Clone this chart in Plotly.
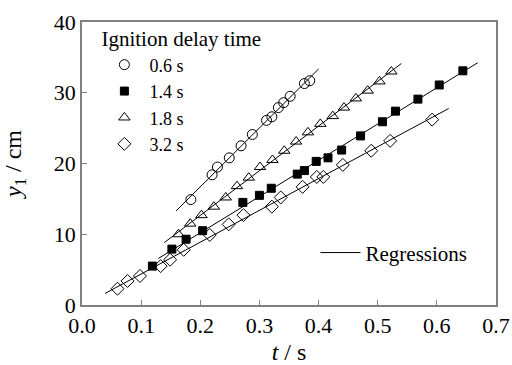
import numpy as np
import plotly.graph_objects as go

# ---- data ----
t_06 = [0.184, 0.220, 0.229, 0.249, 0.269, 0.288, 0.312, 0.321, 0.332, 0.341, 0.352, 0.376, 0.385]
y_06 = [14.9, 18.4, 19.5, 20.8, 22.5, 24.1, 26.1, 26.6, 27.9, 28.6, 29.5, 31.3, 31.7]

t_14 = [0.119, 0.152, 0.176, 0.204, 0.272, 0.300, 0.320, 0.364, 0.376, 0.396, 0.416, 0.439, 0.471, 0.508, 0.530, 0.568, 0.604, 0.644]
y_14 = [5.5, 7.9, 9.3, 10.5, 14.5, 15.5, 16.5, 18.5, 19.0, 20.3, 20.8, 21.9, 23.9, 25.9, 27.4, 29.1, 31.1, 33.1]

t_18 = [0.163, 0.183, 0.202, 0.223, 0.243, 0.262, 0.282, 0.301, 0.322, 0.342, 0.362, 0.382, 0.403, 0.424, 0.443, 0.463, 0.483, 0.503, 0.523]
y_18 = [10.0, 11.5, 12.7, 13.9, 15.2, 16.8, 18.0, 19.5, 20.5, 21.8, 23.1, 24.4, 25.6, 26.7, 27.9, 29.2, 30.3, 31.6, 33.0]

t_32 = [0.060, 0.077, 0.098, 0.133, 0.149, 0.172, 0.216, 0.248, 0.273, 0.321, 0.336, 0.373, 0.397, 0.408, 0.441, 0.489, 0.521, 0.592]
y_32 = [2.3, 3.4, 4.1, 5.5, 6.4, 7.8, 9.9, 11.4, 12.7, 13.9, 15.2, 16.7, 18.1, 18.1, 19.8, 21.8, 23.2, 26.2]

series_names = ["0.6 s", "1.4 s", "1.8 s", "3.2 s"]
series_t = [t_06, t_14, t_18, t_32]
series_y = [y_06, y_14, y_18, y_32]
series_symbols = ["circle-open", "square", "triangle-up-open", "diamond-open"]
series_sizes = [10, 8, 10, 10]
# extent of each regression line (t range)
fit_t_start = [0.159, 0.129, 0.139, 0.039]
fit_t_end = [0.400, 0.669, 0.540, 0.620]

FONT = "Liberation Serif, Times New Roman, Times, serif"
AX = "#808080"

fig = go.Figure()

for i in range(4):
    a, b = np.polyfit(series_t[i], series_y[i], 1)
    tt = np.array([fit_t_start[i], fit_t_end[i]])
    fig.add_trace(go.Scatter(
        x=tt, y=a * tt + b, mode="lines",
        line=dict(color="black", width=1),
        name="Regressions", showlegend=(i == 0), legend="legend2",
    ))

for i in range(4):
    fig.add_trace(go.Scatter(
        x=series_t[i], y=series_y[i], mode="markers", name=series_names[i],
        marker=dict(symbol=series_symbols[i], size=series_sizes[i], color="black",
                    line=dict(color="black", width=1)),
        legend="legend",
    ))

fig.update_layout(
    width=512, height=365,
    margin=dict(l=82, r=16, t=22, b=60),
    paper_bgcolor="white", plot_bgcolor="white",
    font=dict(family=FONT, size=21, color="black"),
    legend=dict(
        title=dict(text="Ignition delay time", font=dict(family=FONT, size=21)),
        x=0.042, y=1.01, xanchor="left", yanchor="top",
        bgcolor="rgba(0,0,0,0)", font=dict(family=FONT, size=18),
        tracegroupgap=0, itemwidth=40,
    ),
    legend2=dict(
        x=0.564, y=0.184, xanchor="left", yanchor="middle",
        bgcolor="rgba(0,0,0,0)", font=dict(family=FONT, size=21),
        itemwidth=40,
    ),
    xaxis=dict(
        range=[0, 0.7], dtick=0.1, tick0=0, tickformat=".1f",
        showline=True, mirror=True, linecolor=AX, linewidth=1.5,
        ticks="inside", ticklen=5, tickcolor=AX, showgrid=False, zeroline=False,
        tickfont=dict(family=FONT, size=22), automargin=False,
        title=dict(text="<i>t</i> / s", font=dict(family=FONT, size=24), standoff=17),
    ),
    yaxis=dict(
        range=[0, 40], dtick=10,
        showline=True, mirror=True, linecolor=AX, linewidth=1.5,
        ticks="inside", ticklen=5, tickcolor=AX, showgrid=False, zeroline=False,
        tickfont=dict(family=FONT, size=22), automargin=False,
        title=dict(text="<i>y</i><sub>1</sub> / cm", font=dict(family=FONT, size=24), standoff=26),
    ),
)

fig.write_html("out.html")
